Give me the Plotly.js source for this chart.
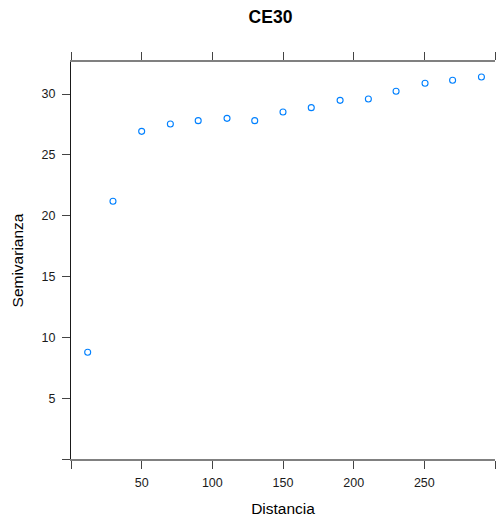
<!DOCTYPE html>
<html>
<head>
<meta charset="utf-8">
<script src="https://cdn.plot.ly/plotly-3.0.1.min.js"></script>
<style>
  html, body { margin: 0; padding: 0; background: #ffffff; }
  #chart { width: 496px; height: 517px; }
</style>
</head>
<body>
<div id="chart"></div>
<script>
// Empirical semivariogram of CE30: lag distance vs. semivariance
const distancia = [11.8, 29.7, 50, 70.3, 90, 110.4, 130, 150, 170, 190.4, 210.4, 230, 250.5, 270, 290.4];
const semivarianza = [8.78, 21.18, 26.93, 27.53, 27.81, 28.0, 27.81, 28.52, 28.88, 29.48, 29.59, 30.22, 30.88, 31.13, 31.40];

const xTickVals = [0, 50, 100, 150, 200, 250, 300];
const xTickText = ['', '50', '100', '150', '200', '250', ''];
const yTickVals = [0, 5, 10, 15, 20, 25, 30];
const yTickText = ['', '5', '10', '15', '20', '25', '30'];

const FONT = 'Liberation Sans, Arial, sans-serif';

const trace = {
  x: distancia,
  y: semivarianza,
  type: 'scatter',
  mode: 'markers',
  marker: {
    symbol: 'circle-open',
    size: 6,
    color: '#0080ff',
    line: { color: '#0080ff', width: 1.1 }
  },
  hoverinfo: 'x+y'
};

const layout = {
  width: 496,
  height: 517,
  margin: { l: 71, r: 1, t: 62, b: 58 },
  paper_bgcolor: '#ffffff',
  plot_bgcolor: '#ffffff',
  showlegend: false,
  font: { family: FONT, size: 12, color: '#000000' },
  title: {
    text: '<b>CE30</b>',
    font: { family: FONT, size: 17.5, color: '#000000' },
    xref: 'container', x: 270.5 / 496, xanchor: 'center',
    yref: 'container', y: 1 - 16.5 / 517, yanchor: 'middle'
  },
  xaxis: {
    range: [0, 300],
    tickmode: 'array',
    tickvals: xTickVals,
    ticktext: xTickText,
    ticks: 'outside',
    ticklen: 8,
    tickwidth: 1,
    tickcolor: '#444444',
    showline: true,
    linecolor: '#808080',
    linewidth: 2,
    mirror: 'ticks',
    showgrid: false,
    zeroline: false,
    ticklabelstandoff: 3,
    tickfont: { family: FONT, size: 12.5, color: '#1a1a1a' },
    title: {
      text: 'Distancia',
      font: { family: FONT, size: 15.5, color: '#000000' },
      standoff: 15
    }
  },
  yaxis: {
    range: [0, 32.63],
    tickmode: 'array',
    tickvals: yTickVals,
    ticktext: yTickText,
    ticks: 'outside',
    ticklen: 8,
    tickwidth: 1,
    tickcolor: '#444444',
    showline: true,
    linecolor: '#1a1a1a',
    linewidth: 1,
    showgrid: false,
    zeroline: false,
    ticklabelstandoff: 4,
    tickfont: { family: FONT, size: 12.5, color: '#1a1a1a' },
    title: {
      text: 'Semivarianza',
      font: { family: FONT, size: 15.5, color: '#000000' },
      standoff: 14
    }
  }
};

Plotly.newPlot('chart', [trace], layout, { displayModeBar: false, staticPlot: true });
</script>
</body>
</html>
